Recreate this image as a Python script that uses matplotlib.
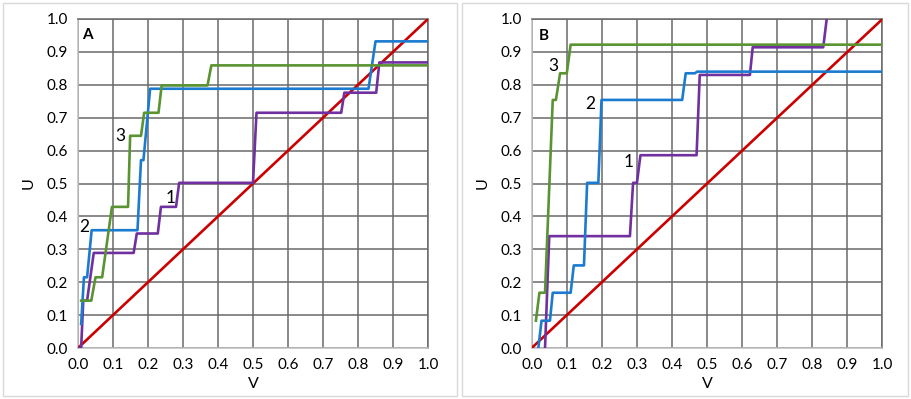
import matplotlib.pyplot as plt
from matplotlib.patches import Rectangle

plt.rcParams['font.family'] = ['Lato', 'DejaVu Sans']

# panel A
a1_v = [0.0, 0.009, 0.015, 0.026, 0.045, 0.159, 0.168, 0.228, 0.237, 0.280, 0.289, 0.500, 0.510, 0.752, 0.761, 0.852, 0.861, 1.0]
a1_u = [0.0, 0.0, 0.144, 0.144, 0.289, 0.289, 0.348, 0.348, 0.429, 0.429, 0.502, 0.502, 0.715, 0.715, 0.776, 0.776, 0.868, 0.868]
a2_v = [0.009, 0.017, 0.026, 0.039, 0.170, 0.180, 0.187, 0.206, 0.830, 0.850, 1.0]
a2_u = [0.073, 0.215, 0.215, 0.358, 0.358, 0.571, 0.571, 0.788, 0.788, 0.932, 0.932]
a3_v = [0.009, 0.038, 0.050, 0.069, 0.097, 0.143, 0.149, 0.180, 0.189, 0.230, 0.239, 0.370, 0.381, 1.0]
a3_u = [0.144, 0.144, 0.215, 0.215, 0.429, 0.429, 0.645, 0.645, 0.715, 0.715, 0.798, 0.798, 0.859, 0.859]

# panel B
b1_v = [0.038, 0.050, 0.280, 0.289, 0.300, 0.310, 0.470, 0.479, 0.622, 0.630, 0.831, 0.841]
b1_u = [0.0, 0.340, 0.340, 0.502, 0.502, 0.586, 0.586, 0.830, 0.830, 0.914, 0.914, 1.0]
b2_v = [0.019, 0.028, 0.052, 0.060, 0.111, 0.120, 0.149, 0.158, 0.190, 0.199, 0.429, 0.439, 0.465, 0.472, 1.0]
b2_u = [0.0, 0.083, 0.083, 0.168, 0.168, 0.251, 0.251, 0.502, 0.502, 0.754, 0.754, 0.835, 0.835, 0.840, 0.840]
b3_v = [0.012, 0.022, 0.038, 0.060, 0.069, 0.081, 0.100, 0.111, 1.0]
b3_u = [0.083, 0.168, 0.168, 0.754, 0.754, 0.835, 0.835, 0.922, 0.922]

diag = [0.0, 1.0]
ticks = [0.0, 0.1, 0.2, 0.3, 0.4, 0.5, 0.6, 0.7, 0.8, 0.9, 1.0]
tick_labels = ['0.0', '0.1', '0.2', '0.3', '0.4', '0.5', '0.6', '0.7', '0.8', '0.9', '1.0']

purple = '#7030A0'
blue = '#1B7BD0'
green = '#5A9332'
red = '#CC0000'

panels = [
    ('A', [(a1_v, a1_u, purple), (a2_v, a2_u, blue), (a3_v, a3_u, green)],
     (0.026, 0.951), [('1', 0.265, 0.456), ('2', 0.017, 0.368), ('3', 0.122, 0.644)]),
    ('B', [(b1_v, b1_u, purple), (b2_v, b2_u, blue), (b3_v, b3_u, green)],
     (0.035, 0.948), [('1', 0.277, 0.564), ('2', 0.168, 0.741), ('3', 0.062, 0.857)]),
]

W, H = 911, 399
fig = plt.figure(figsize=(W / 100, H / 100), dpi=100)

# axes boxes in pixels (left, right, top, bottom)
boxes = [(78, 428, 19, 348), (531.7, 882.5, 19, 348)]
frames = [(3, 457), (462, 908)]

for (fx0, fx1) in frames:
    fig.patches.append(Rectangle((fx0 / W, 3 / H), (fx1 - fx0) / W, (H - 6) / H,
                                 transform=fig.transFigure, fill=False,
                                 edgecolor='#d9d9d9', lw=1.0))

for (name, series, name_pos, labels), (x0, x1, y0, y1) in zip(panels, boxes):
    ax = fig.add_axes([x0 / W, 1 - y1 / H, (x1 - x0) / W, (y1 - y0) / H])
    ax.set_xlim(0, 1)
    ax.set_ylim(0, 1)
    ax.set_xticks(ticks)
    ax.set_yticks(ticks)
    ax.set_xticklabels(tick_labels, fontsize=11)
    ax.set_yticklabels(tick_labels, fontsize=11)
    ax.tick_params(length=0, pad=7)
    ax.grid(True, color='#6a6a6a', lw=1.1)
    for s in ax.spines.values():
        s.set_color('#6a6a6a')
        s.set_linewidth(1.1)
    ax.spines['left'].set_color('#bfbfbf')
    ax.spines['bottom'].set_color('#bfbfbf')
    ax.set_axisbelow(True)

    ax.plot(diag, diag, color=red, lw=1.9, zorder=3)
    for v, u, c in series:
        ax.plot(v, u, color=c, lw=1.9, zorder=4)

    ax.text(name_pos[0], name_pos[1], name, fontsize=11, fontweight='bold',
            ha='center', va='center', zorder=6)
    for t, lx, ly in labels:
        ax.text(lx, ly, t, fontsize=12.5, ha='center', va='center', zorder=6)

    ax.set_xlabel('V', fontsize=11.5, labelpad=4)
    ax.set_ylabel('U', fontsize=11.5, labelpad=8)

fig.savefig('out.png', dpi=100)
